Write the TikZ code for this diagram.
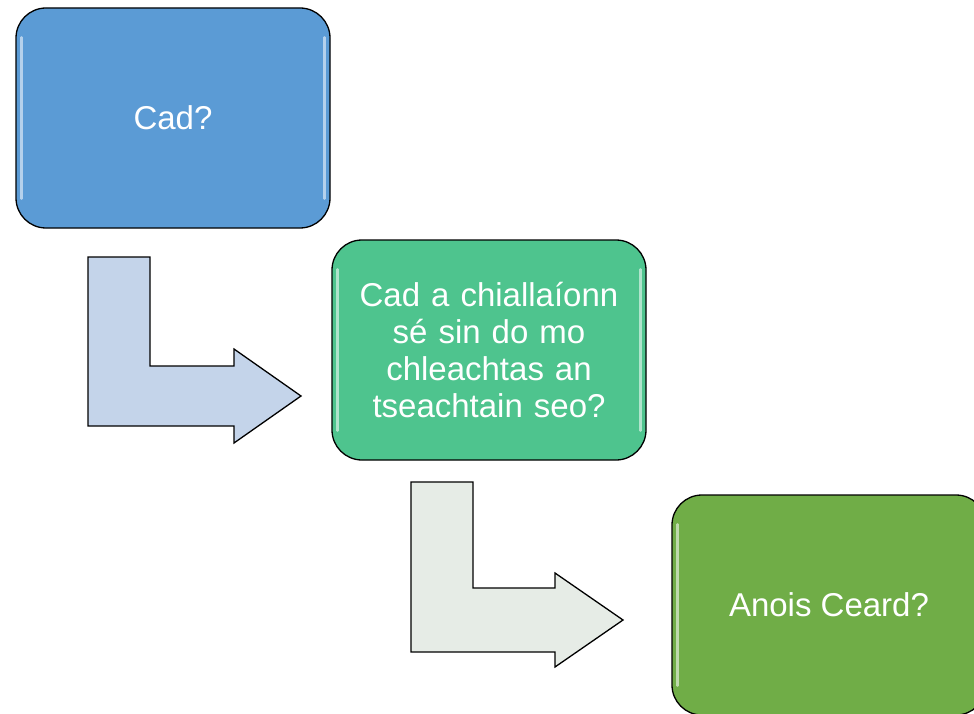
\documentclass[tikz,border=0pt]{standalone}
\usepackage{fontspec}
\setmainfont{Liberation Sans}
\definecolor{boxblue}{RGB}{91,155,213}
\definecolor{boxteal}{RGB}{78,196,142}
\definecolor{boxgreen}{RGB}{112,173,71}
\definecolor{arrowblue}{RGB}{196,212,234}
\definecolor{arrowgrey}{RGB}{230,236,230}
\tikzset{
  stepbox/.style={draw=black, line width=1.3pt, rounded corners=30pt,
    minimum width=314pt, minimum height=220pt, text=white, align=center,
    font=\fontsize{33}{37}\selectfont},
  bentarrow/.style={draw=black, line width=1.3pt, line join=miter},
  gloss/.style={white, opacity=0.55, line width=2.5pt, line cap=round}
}
\begin{document}
\begin{tikzpicture}[x=1pt, y=-1pt]
	\useasboundingbox (0,0) rectangle (974,714);
	\clip (0,0) rectangle (974,714);

	\node[stepbox, fill=boxblue] (cad) at (173,118) {Cad?}; %step 1
	\node[stepbox, fill=boxteal, text width=300pt] (ciall) at (489,350)
	  {Cad a chiallaíonn\\sé sin do mo\\chleachtas an\\tseachtain seo?}; %step 2
	\node[stepbox, fill=boxgreen] (anois) at (829,605) {Anois Ceard?}; %step 3

	% highlights on the box sides
	\foreach \n in {cad,ciall,anois} {
		\draw[gloss] ([xshift=6pt,yshift=-30pt]\n.north west) -- ([xshift=6pt,yshift=30pt]\n.south west);
		\draw[gloss] ([xshift=-6pt,yshift=-30pt]\n.north east) -- ([xshift=-6pt,yshift=30pt]\n.south east);
	}

	% bent arrows
	\draw[bentarrow, fill=arrowblue] (88,257) -- (150,257) -- (150,366) -- (234,366) -- (234,349)
	  -- (301,396) -- (234,443) -- (234,426) -- (88,426) -- cycle; %arrow 1
	\draw[bentarrow, fill=arrowgrey] (411,482) -- (473,482) -- (473,588) -- (555,588) -- (555,573)
	  -- (623,620) -- (555,667) -- (555,652) -- (411,652) -- cycle; %arrow 2
\end{tikzpicture}
\end{document}
